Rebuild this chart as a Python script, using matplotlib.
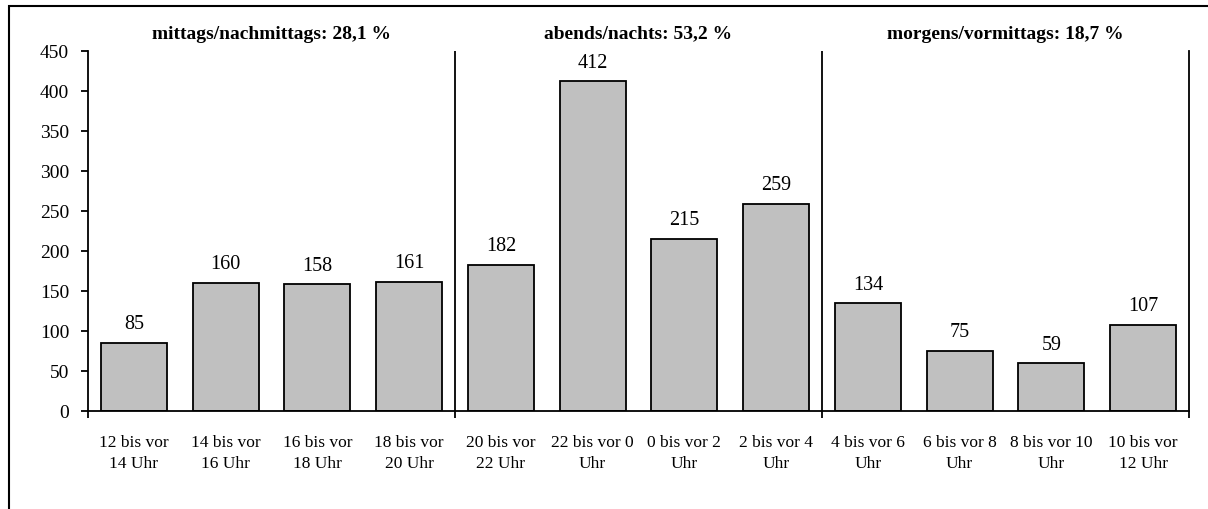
import matplotlib
matplotlib.use("Agg")
import matplotlib.pyplot as plt
from matplotlib.patches import Rectangle

plt.rcParams['font.family'] = ['Liberation Serif', 'DejaVu Serif']

# data
zeitraeume = ['12 bis vor\n14 Uhr', '14 bis vor\n16 Uhr', '16 bis vor\n18 Uhr', '18 bis vor\n20 Uhr',
              '20 bis vor\n22 Uhr', '22 bis vor 0\nUhr', '0 bis vor 2\nUhr', '2 bis vor 4\nUhr',
              '4 bis vor 6\nUhr', '6 bis vor 8\nUhr', '8 bis vor 10\nUhr', '10 bis vor\n12 Uhr']
anzahl = [85, 160, 158, 161, 182, 412, 215, 259, 134, 75, 59, 107]
gruppen = ['mittags/nachmittags: 28,1 %', 'abends/nachts: 53,2 %', 'morgens/vormittags: 18,7 %']
gruppen_groesse = [4, 4, 4]
y_ticks = [0, 50, 100, 150, 200, 250, 300, 350, 400, 450]

W, H = 1208, 510
fig = plt.figure(figsize=(W / 100, H / 100), dpi=100)
ax = fig.add_axes([88 / W, 1 - 411.5 / H, (1189 - 88) / W, (411.5 - 52) / H])

# rahmen um die grafik (rechts/unten abgeschnitten)
fig.patches.append(Rectangle((9 / W, -0.1), 1.2, 1 - 7 / H + 0.1, transform=fig.transFigure,
                             fill=False, edgecolor='black', linewidth=1.5, zorder=0))

x = [i + 0.5 for i in range(len(anzahl))]
ax.bar(x, anzahl, width=0.72, color='#c0c0c0', edgecolor='black', linewidth=1.3, zorder=2)
for xi, v in zip(x, anzahl):
    ax.annotate(str(v), (xi, v), xytext=(0, 7), textcoords='offset points',
                ha='center', va='bottom', fontsize=14.5)

# trennlinien + titel
grenzen = [0]
for g in gruppen_groesse:
    grenzen.append(grenzen[-1] + g)
for i, titel in enumerate(gruppen):
    if i > 0:
        ax.axvline(grenzen[i], color='black', linewidth=1.3, zorder=3)
    ax.text((grenzen[i] + grenzen[i + 1]) / 2, 1.05, titel, transform=ax.get_xaxis_transform(),
            ha='center', va='center', fontsize=14, fontweight='bold')

ax.set_xlim(0, len(anzahl))
ax.set_ylim(0, 450)
ax.set_yticks(y_ticks)
ax.tick_params(axis='y', direction='out', length=5, width=1.3, pad=8.5, labelsize=14)

ax.set_xticks(grenzen)
ax.set_xticklabels([])
ax.set_xticks(x, minor=True)
ax.set_xticklabels(zeitraeume, minor=True, fontsize=12.5, linespacing=1.42)
ax.tick_params(axis='x', which='major', direction='out', length=5, width=1.3)
ax.tick_params(axis='x', which='minor', length=0, pad=17)

ax.spines['top'].set_visible(False)
for s in ['left', 'bottom', 'right']:
    ax.spines[s].set_linewidth(1.3)

fig.savefig('out.png', dpi=100)
